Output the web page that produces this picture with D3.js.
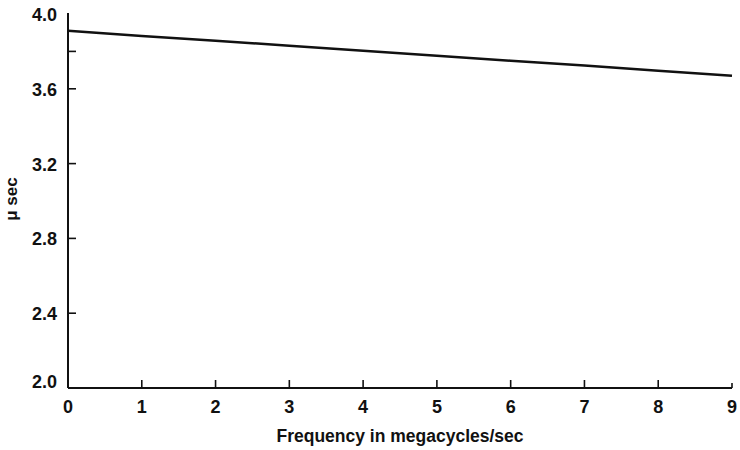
<!DOCTYPE html>
<html>
<head>
<meta charset="utf-8">
<script src="https://cdn.jsdelivr.net/npm/d3@7"></script>
<style>
  html, body { margin: 0; padding: 0; background: #fff; }
  text { font-family: "Liberation Sans", Arial, sans-serif; fill: #111; }
</style>
</head>
<body>
<svg id="chart" width="740" height="450"></svg>
<script>
// Data
const freq = [0, 1, 2, 3, 4, 5, 6, 7, 8, 9];
const usec = [3.91, 3.883, 3.857, 3.83, 3.804, 3.777, 3.75, 3.724, 3.697, 3.67];
const xTicks = [0, 1, 2, 3, 4, 5, 6, 7, 8, 9];
const yTickMarks = [3.8, 3.6, 3.2, 2.8, 2.4];
const yTickLabels = [4.0, 3.6, 3.2, 2.8, 2.4, 2.0];
const xTitle = "Frequency in megacycles/sec";
const yTitle = "\u03bc sec";

const svg = d3.select("#chart");
const x = d3.scaleLinear().domain([0, 9]).range([68, 732]);
const y = d3.scaleLinear().domain([2.0, 4.0]).range([388, 14]);

// Axes lines
svg.append("line").attr("x1", x(0)).attr("x2", x(9)).attr("y1", y(2.0)).attr("y2", y(2.0))
  .attr("stroke", "#111").attr("stroke-width", 2);
svg.append("line").attr("x1", x(0)).attr("x2", x(0)).attr("y1", y(2.0)).attr("y2", y(4.0) - 1)
  .attr("stroke", "#111").attr("stroke-width", 2);

// X ticks (pointing inward / up)
svg.selectAll(".xt").data(xTicks.filter(d => d > 0)).enter().append("line")
  .attr("x1", d => x(d)).attr("x2", d => x(d))
  .attr("y1", y(2.0)).attr("y2", d => y(2.0) - (d === 9 ? 5 : 8))
  .attr("stroke", "#111").attr("stroke-width", 1.6);
svg.selectAll(".xl").data(xTicks).enter().append("text")
  .attr("x", d => x(d)).attr("y", 413)
  .attr("text-anchor", "middle")
  .attr("font-size", 18).attr("font-weight", "bold")
  .text(d => d);

// Y ticks (pointing inward / right)
svg.selectAll(".yt").data(yTickMarks).enter().append("line")
  .attr("x1", x(0)).attr("x2", x(0) + 8)
  .attr("y1", d => y(d)).attr("y2", d => y(d))
  .attr("stroke", "#111").attr("stroke-width", 1.6);
svg.selectAll(".yl").data(yTickLabels).enter().append("text")
  .attr("x", 57).attr("y", d => y(d) + (d === 2.0 ? 0 : 7))
  .attr("text-anchor", "end")
  .attr("font-size", 18).attr("font-weight", "bold")
  .text(d => d.toFixed(1));

// Data line
const line = d3.line().x((d, i) => x(freq[i])).y(d => y(d));
svg.append("path").datum(usec)
  .attr("d", line)
  .attr("fill", "none").attr("stroke", "#111").attr("stroke-width", 2.5);

// Titles
svg.append("text").attr("x", 400).attr("y", 442)
  .attr("text-anchor", "middle").attr("font-size", 17.5).attr("font-weight", "bold")
  .text(xTitle);
svg.append("text")
  .attr("transform", "translate(17,199) rotate(-90)")
  .attr("text-anchor", "middle").attr("font-size", 17).attr("font-weight", "bold")
  .text(yTitle);
</script>
</body>
</html>
